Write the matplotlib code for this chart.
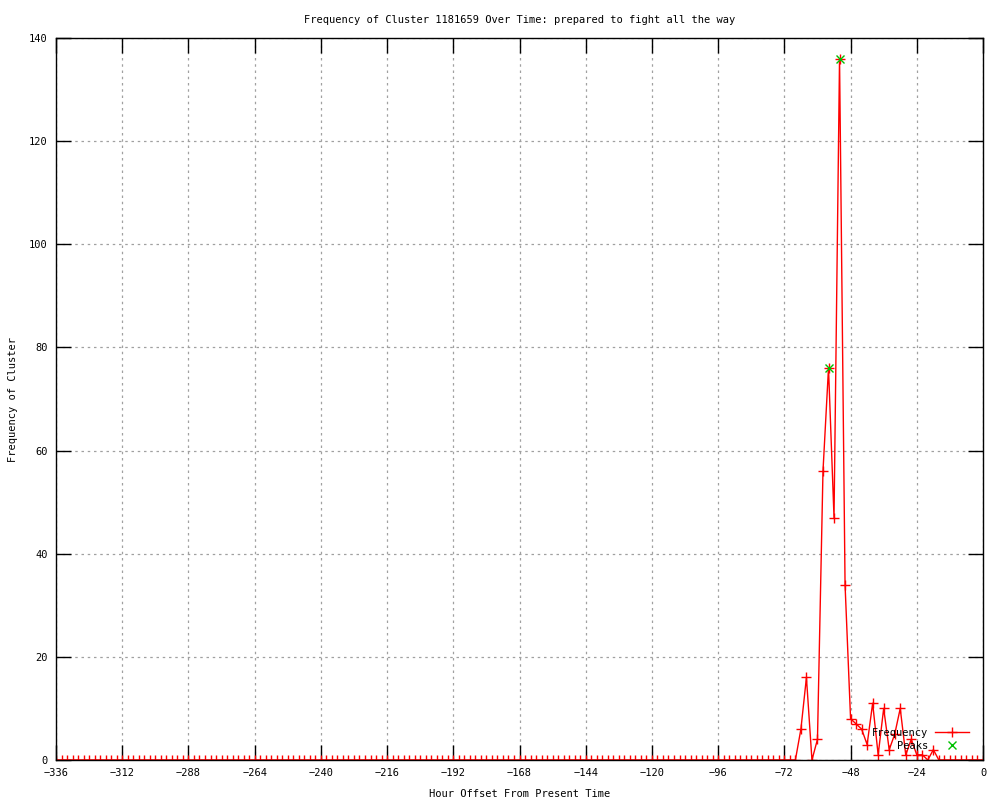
import matplotlib
matplotlib.use("Agg")
import matplotlib.pyplot as plt
import numpy as np

# Data: hour offsets every 2 hours from -336 to 0
hours = list(range(-336, 1, 2))
nonzero = {
    -66: 6, -64: 16, -62: 0, -60: 4, -58: 56, -56: 76, -54: 47, -52: 136,
    -50: 34, -48: 8, -46: 7, -44: 6, -42: 3, -40: 11, -38: 1, -36: 10,
    -34: 2, -32: 5, -30: 10, -28: 1, -26: 4, -24: 1, -22: 1, -20: 0,
    -18: 2, -16: 0,
}
freq = [nonzero.get(h, 0) for h in hours]

peak_hours = [-56, -52]
peak_values = [76, 136]

xticks = list(range(-336, 1, 24))
yticks = list(range(0, 141, 20))

font = "DejaVu Sans Mono"
plt.rcParams["font.family"] = font
plt.rcParams["font.size"] = 7.5

fig = plt.figure(figsize=(10, 8), dpi=100)
ax = fig.add_axes([0.056, 0.05, 0.927, 0.9025])

ax.plot(hours, freq, color="#ff0000", linewidth=1.0, marker="+",
        markersize=7, markeredgewidth=1.0, label="Frequency")
ax.plot(peak_hours, peak_values, linestyle="none", color="#00c000",
        marker="x", markersize=6, markeredgewidth=1.0, label="Peaks")

ax.set_xlim(-336, 0)
ax.set_ylim(0, 140)
ax.set_xticks(xticks)
ax.set_yticks(yticks)
ax.tick_params(direction="in", length=11, width=1, top=True, right=True,
               labelsize=7.5, pad=6)
ax.grid(True, color="#a0a0a0", linestyle=(0, (2, 3)), linewidth=0.9)
for s in ax.spines.values():
    s.set_linewidth(1.0)
    s.set_color("black")

ax.set_title("Frequency of Cluster 1181659 Over Time: prepared to fight all the way",
             fontsize=7.5, pad=11)
ax.set_xlabel("Hour Offset From Present Time", fontsize=7.5, labelpad=8)
ax.set_ylabel("Frequency of Cluster", fontsize=7.5, labelpad=8)

leg = ax.legend(loc="lower right", bbox_to_anchor=(0.995, 0.0), frameon=False,
                markerfirst=False, fontsize=7.5, handlelength=3.3,
                handletextpad=0.6, labelspacing=0.25, borderaxespad=0.5)
for t in leg.get_texts():
    t.set_ha("right")

fig.savefig("out.png", dpi=100)
